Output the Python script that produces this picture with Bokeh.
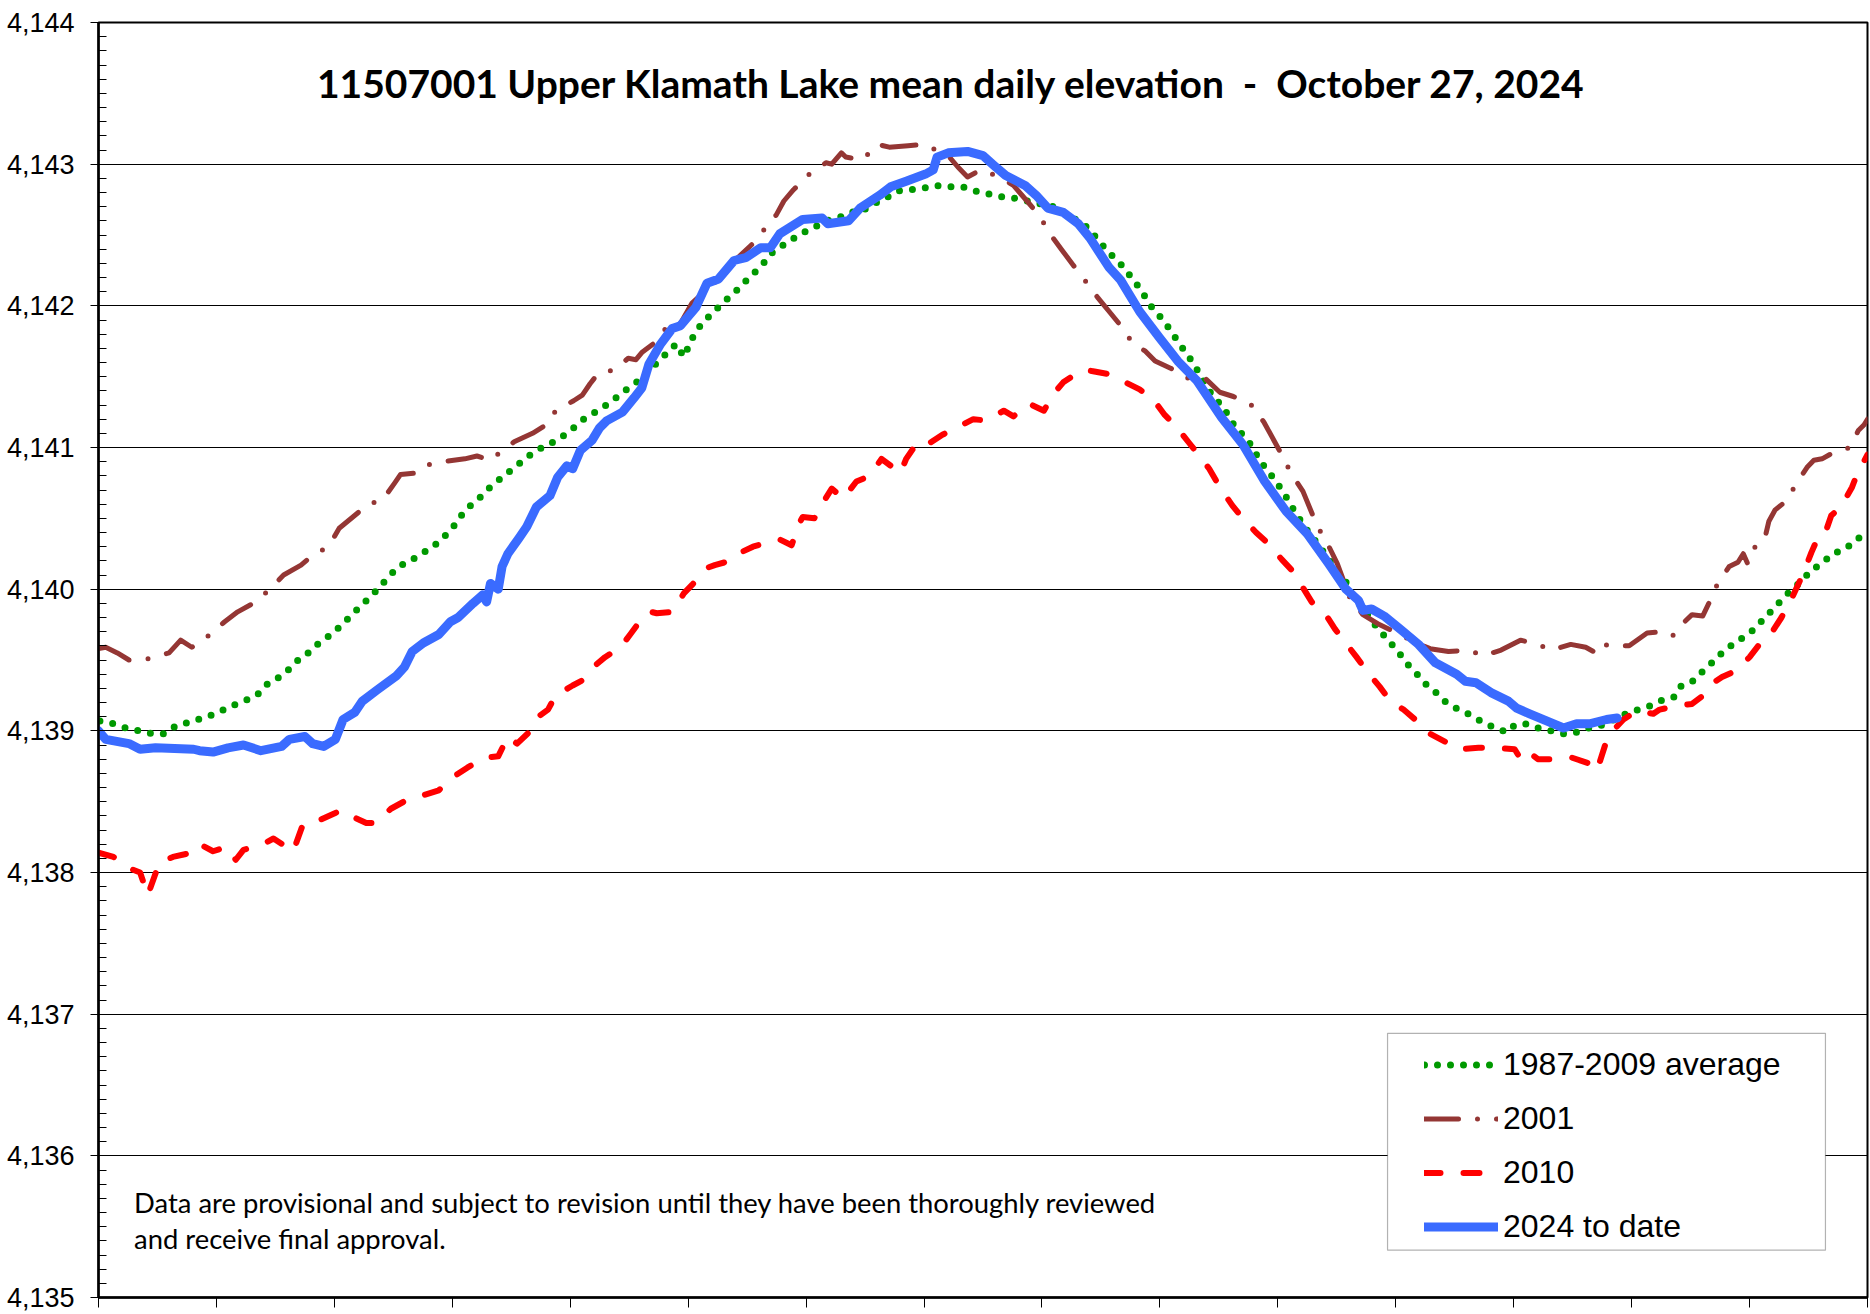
from bokeh.plotting import figure
from bokeh.models import (Range1d, SingleIntervalTicker, FixedTicker, NumeralTickFormatter,
                          Legend, LegendItem, Label, BoxAnnotation)
from bokeh.embed import file_html
from bokeh.resources import INLINE

# ---------------- data (x = day along the axis, y = elevation in feet) ----------------
avg_day = [0.3, 3.1, 5.7, 8.4, 11.0, 13.8, 16.2, 18.9, 21.5, 24.1,
           26.6, 29.2, 31.6, 33.4, 35.2, 37.5, 39.6, 41.6, 43.8, 45.9,
           48.2, 50.4, 54.2, 56.4, 58.3, 60.1, 62.1, 64.5, 66.8, 69.2,
           71.2, 73.2, 74.8, 76.6, 78.7, 80.7, 82.8, 85.0, 87.2, 89.4,
           91.8, 94.2, 96.5, 98.7, 100.7, 103.3, 105.5, 107.8, 110.0, 112.1,
           114.2, 116.1, 118.1, 119.5, 121.1, 123.4, 125.2, 127.1, 129.1, 131.2,
           133.2, 135.2, 137.2, 138.8, 140.8, 143.1, 145.3, 147.9, 150.5, 153.0,
           155.6, 158.0, 160.4, 162.9, 165.3, 167.9, 170.5, 173.2, 176.1, 178.8,
           181.4, 184.1, 186.8, 189.5, 192.2, 194.8, 197.6, 200.4, 202.7, 204.7,
           206.7, 208.4, 210.4, 212.2, 214.1, 215.8, 217.2, 219.0, 220.7, 222.3,
           223.9, 225.6, 227.1, 229.8, 231.5, 233.3, 234.9, 236.7, 238.4, 239.9,
           241.5, 243.2, 244.8, 246.3, 247.6, 249.2, 250.8, 252.5, 254.3, 256.1,
           258.1, 259.8, 262.0, 263.8, 265.8, 267.6, 269.3, 271.1, 273.1, 274.9,
           277.1, 279.1, 281.5, 284.0, 286.4, 289.0, 291.4, 293.0, 295.2, 297.8,
           300.5, 303.1, 305.8, 308.3, 311.1, 313.6, 316.0, 318.6, 321.3, 323.7,
           326.0, 327.5, 329.8, 331.9, 333.8, 335.9, 338.1, 340.3, 342.7, 344.5,
           346.5, 348.4, 350.4, 352.5, 354.2, 356.5, 358.8, 361.2, 363.5, 365.5]
avg_elev = [4139.07, 4139.05, 4139.02, 4139.00, 4138.98, 4138.98, 4139.04, 4139.06, 4139.09, 4139.12,
            4139.16, 4139.20, 4139.23, 4139.27, 4139.34, 4139.38, 4139.44, 4139.51, 4139.56, 4139.63,
            4139.68, 4139.75, 4139.88, 4139.95, 4140.02, 4140.09, 4140.16, 4140.20, 4140.25, 4140.30,
            4140.36, 4140.43, 4140.51, 4140.58, 4140.64, 4140.71, 4140.77, 4140.83, 4140.89, 4140.95,
            4141.00, 4141.04, 4141.09, 4141.15, 4141.21, 4141.26, 4141.31, 4141.37, 4141.43, 4141.48,
            4141.55, 4141.62, 4141.68, 4141.73, 4141.64, 4141.81, 4141.89, 4141.95, 4142.02, 4142.08,
            4142.15, 4142.22, 4142.28, 4142.36, 4142.41, 4142.46, 4142.51, 4142.55, 4142.60, 4142.62,
            4142.66, 4142.67, 4142.72, 4142.76, 4142.81, 4142.82, 4142.83, 4142.85, 4142.84, 4142.84,
            4142.81, 4142.79, 4142.77, 4142.76, 4142.74, 4142.72, 4142.70, 4142.64, 4142.60, 4142.55,
            4142.47, 4142.40, 4142.33, 4142.27, 4142.18, 4142.11, 4142.02, 4141.95, 4141.88, 4141.80,
            4141.72, 4141.64, 4141.56, 4141.40, 4141.33, 4141.25, 4141.16, 4141.09, 4141.02, 4140.93,
            4140.85, 4140.78, 4140.70, 4140.62, 4140.54, 4140.46, 4140.38, 4140.31, 4140.22, 4140.14,
            4140.05, 4139.94, 4139.85, 4139.76, 4139.68, 4139.61, 4139.54, 4139.46, 4139.39, 4139.32,
            4139.26, 4139.19, 4139.15, 4139.11, 4139.06, 4139.02, 4138.99, 4139.04, 4139.05, 4139.02,
            4139.00, 4138.98, 4138.99, 4139.02, 4139.04, 4139.08, 4139.12, 4139.15, 4139.18, 4139.22,
            4139.24, 4139.32, 4139.35, 4139.42, 4139.48, 4139.55, 4139.61, 4139.66, 4139.72, 4139.79,
            4139.86, 4139.93, 4140.00, 4140.06, 4140.13, 4140.18, 4140.25, 4140.28, 4140.34, 4140.40]

y2001_day = [0, 1.5, 3.9, 6.3, 10.4, 14.6, 17.0, 19.3, 22.7, 26.1,
             28.8, 32.0, 35.2, 38.3, 41.9, 44.3, 47.6, 49.8, 53.0, 55.8,
             58.8, 61.3, 62.5, 65.6, 67.2, 71.3, 75.8, 78.3, 81.1, 82.5,
             86.0, 89.8, 92.6, 94.6, 98.3, 100.1, 101.7, 103.3, 106.8, 109.6,
             111.2, 112.4, 115.1, 117.8, 120.3, 122.8, 127.0, 132.3, 135.4, 138.0,
             140.2, 141.8, 143.8, 147.1, 150.5, 151.7, 153.7, 154.6, 158.0, 161.2,
             163.6, 167.5, 170.7, 175.8, 177.8, 179.8, 182.6, 186.5, 189.3, 192.1,
             194.8, 196.8, 199.2, 201.6, 204.1, 206.7, 209.1, 211.5, 214.1, 216.6,
             218.6, 221.8, 225.1, 228.9, 232.0, 234.8, 238.5, 241.1, 244.8, 246.7,
             249.2, 252.1, 254.3, 256.3, 258.9, 261.6, 265.0, 268.7, 272.0, 275.5,
             279.3, 283.5, 286.5, 290.2, 294.2, 297.8, 300.6, 304.6, 307.7, 309.3,
             310.2, 312.9, 316.7, 320.4, 323.5, 325.7, 326.6, 329.7, 331.9, 333.6,
             335.0, 337.4, 339.2, 340.3, 341.2, 342.5, 344.7, 345.6, 346.9, 349.1,
             351.2, 353.5, 354.9, 356.6, 358.7, 362.4, 364.1, 365.3, 366.0]
y2001_elev = [4139.58, 4139.59, 4139.55, 4139.50, 4139.51, 4139.55, 4139.64, 4139.59, 4139.67, 4139.77,
              4139.84, 4139.90, 4139.99, 4140.10, 4140.17, 4140.24, 4140.30, 4140.43, 4140.52, 4140.60,
              4140.63, 4140.75, 4140.81, 4140.82, 4140.87, 4140.90, 4140.92, 4140.94, 4140.91, 4140.95,
              4141.04, 4141.10, 4141.16, 4141.26, 4141.33, 4141.37, 4141.45, 4141.52, 4141.55, 4141.63,
              4141.62, 4141.67, 4141.74, 4141.86, 4141.87, 4142.02, 4142.15, 4142.34, 4142.44, 4142.55,
              4142.64, 4142.74, 4142.82, 4142.93, 4143.01, 4143.00, 4143.08, 4143.05, 4143.03, 4143.14,
              4143.12, 4143.13, 4143.14, 4143.06, 4142.98, 4142.91, 4142.96, 4142.91, 4142.85, 4142.74,
              4142.63, 4142.51, 4142.40, 4142.29, 4142.18, 4142.06, 4141.96, 4141.86, 4141.73, 4141.68,
              4141.61, 4141.56, 4141.49, 4141.49, 4141.39, 4141.36, 4141.30, 4141.18, 4140.95, 4140.82,
              4140.69, 4140.45, 4140.32, 4140.18, 4139.94, 4139.82, 4139.75, 4139.69, 4139.63, 4139.58,
              4139.56, 4139.57, 4139.53, 4139.57, 4139.64, 4139.61, 4139.57, 4139.61, 4139.59, 4139.56,
              4139.62, 4139.60, 4139.60, 4139.69, 4139.70, 4139.67, 4139.72, 4139.82, 4139.81, 4139.93,
              4140.04, 4140.16, 4140.19, 4140.25, 4140.18, 4140.29, 4140.35, 4140.48, 4140.56, 4140.62,
              4140.74, 4140.86, 4140.91, 4140.92, 4140.96, 4141.00, 4141.12, 4141.16, 4141.20]

y2010_day = [0, 3.1, 7.1, 8.6, 10.2, 12.6, 15.4, 19.3, 20.9, 23.7,
             26.5, 28.4, 30.0, 34.0, 36.2, 40.3, 42.3, 45.1, 49.0, 50.2,
             52.2, 55.4, 57.3, 60.5, 63.7, 67.6, 70.4, 73.6, 76.3, 79.9,
             82.7, 84.7, 86.6, 89.4, 90.6, 93.0, 94.6, 98.1, 100.3, 102.7,
             104.8, 108.0, 110.0, 112.8, 114.3, 115.5, 118.7, 121.1, 122.8, 125.9,
             127.5, 130.7, 132.3, 135.4, 137.4, 141.0, 143.4, 144.9, 145.7, 148.1,
             149.7, 151.7, 154.1, 156.8, 159.6, 162.0, 165.9, 167.1, 169.5, 171.9,
             174.6, 177.0, 181.0, 183.7, 187.3, 189.3, 192.5, 195.6, 197.6, 199.6,
             202.7, 204.3, 205.5, 208.7, 211.9, 215.4, 218.2, 220.6, 222.9, 225.7,
             228.0, 229.8, 232.0, 234.6, 236.5, 239.5, 242.1, 244.8, 247.0, 249.2,
             251.0, 254.1, 255.8, 258.5, 260.3, 262.9, 265.1, 267.3, 270.0, 273.1,
             274.9, 278.8, 281.5, 285.5, 288.6, 293.0, 293.9, 295.2, 297.8, 302.3,
             304.9, 309.3, 310.0, 310.7, 312.0, 313.3, 315.5, 318.2, 321.7, 323.0,
             327.0, 329.7, 332.8, 334.1, 335.9, 338.5, 341.6, 343.4, 346.5, 348.2,
             350.4, 352.7, 354.4, 356.2, 357.5, 358.5, 360.5, 362.8, 363.7, 366.0]
y2010_elev = [4138.14, 4138.11, 4138.02, 4138.00, 4137.84, 4138.07, 4138.11, 4138.14, 4138.20, 4138.15,
              4138.18, 4138.09, 4138.16, 4138.20, 4138.24, 4138.15, 4138.34, 4138.36, 4138.42, 4138.44,
              4138.40, 4138.35, 4138.35, 4138.45, 4138.51, 4138.55, 4138.58, 4138.68, 4138.74, 4138.81,
              4138.82, 4138.96, 4138.91, 4139.00, 4139.09, 4139.15, 4139.25, 4139.32, 4139.36, 4139.46,
              4139.52, 4139.59, 4139.68, 4139.81, 4139.84, 4139.83, 4139.84, 4139.97, 4140.03, 4140.15,
              4140.17, 4140.20, 4140.25, 4140.30, 4140.32, 4140.35, 4140.31, 4140.46, 4140.51, 4140.50,
              4140.60, 4140.71, 4140.64, 4140.76, 4140.80, 4140.92, 4140.82, 4140.92, 4141.04, 4141.03,
              4141.09, 4141.13, 4141.20, 4141.19, 4141.26, 4141.22, 4141.31, 4141.26, 4141.38, 4141.46,
              4141.53, 4141.55, 4141.54, 4141.52, 4141.47, 4141.41, 4141.34, 4141.23, 4141.15, 4141.03,
              4140.93, 4140.85, 4140.72, 4140.59, 4140.51, 4140.40, 4140.32, 4140.21, 4140.13, 4140.01,
              4139.91, 4139.81, 4139.72, 4139.60, 4139.52, 4139.40, 4139.31, 4139.21, 4139.15, 4139.06,
              4138.99, 4138.92, 4138.87, 4138.88, 4138.88, 4138.87, 4138.82, 4138.87, 4138.80, 4138.80,
              4138.81, 4138.76, 4138.72, 4138.79, 4138.93, 4139.00, 4139.08, 4139.14, 4139.12, 4139.15,
              4139.18, 4139.19, 4139.27, 4139.34, 4139.38, 4139.42, 4139.52, 4139.60, 4139.71, 4139.80,
              4139.94, 4140.11, 4140.26, 4140.40, 4140.42, 4140.52, 4140.58, 4140.72, 4140.80, 4140.95]

y2024_day = [0, 1.5, 6.3, 8.6, 11.8, 19.7, 20.9, 23.7, 26.8, 30.0,
             33.6, 37.9, 39.5, 42.7, 44.3, 46.6, 49.0, 50.6, 53.0, 54.6,
             57.7, 61.7, 63.3, 64.9, 67.2, 70.4, 72.8, 74.4, 77.5, 79.5,
             80.3, 81.1, 82.7, 83.5, 84.7, 87.0, 88.6, 90.6, 93.4, 95.0,
             96.9, 98.1, 99.7, 102.1, 103.7, 105.2, 108.4, 110.8, 112.4, 113.9,
             116.3, 118.7, 120.4, 123.6, 125.9, 128.3, 131.5, 133.9, 137.0, 139.0,
             141.0, 145.7, 149.7, 150.9, 155.2, 157.6, 161.6, 163.9, 167.1, 171.1,
             172.7, 173.5, 175.8, 179.8, 183.0, 185.3, 187.7, 191.7, 194.0, 196.4,
             199.6, 202.7, 205.1, 209.1, 211.5, 215.4, 219.4, 223.3, 227.3, 232.4,
             236.8, 241.3, 245.7, 250.1, 254.5, 258.1, 260.7, 261.6, 263.4, 266.0,
             269.6, 273.1, 276.6, 281.0, 282.8, 285.0, 288.1, 291.7, 293.4, 296.1,
             299.6, 303.1, 305.8, 308.5, 312.0, 314.2]
y2024_elev = [4139.00, 4138.94, 4138.91, 4138.87, 4138.88, 4138.87, 4138.86, 4138.85, 4138.88, 4138.90,
              4138.86, 4138.89, 4138.94, 4138.96, 4138.91, 4138.89, 4138.94, 4139.08, 4139.13, 4139.21,
              4139.29, 4139.39, 4139.45, 4139.56, 4139.62, 4139.68, 4139.77, 4139.80, 4139.90, 4139.96,
              4139.91, 4140.04, 4140.00, 4140.16, 4140.25, 4140.36, 4140.44, 4140.58, 4140.66, 4140.79,
              4140.87, 4140.85, 4140.98, 4141.05, 4141.14, 4141.19, 4141.25, 4141.35, 4141.42, 4141.59,
              4141.73, 4141.84, 4141.86, 4141.99, 4142.16, 4142.19, 4142.32, 4142.34, 4142.41, 4142.41,
              4142.51, 4142.61, 4142.62, 4142.58, 4142.60, 4142.69, 4142.78, 4142.84, 4142.88, 4142.93,
              4142.96, 4143.05, 4143.08, 4143.09, 4143.06, 4142.99, 4142.92, 4142.85, 4142.78, 4142.69,
              4142.66, 4142.58, 4142.48, 4142.27, 4142.18, 4141.96, 4141.78, 4141.61, 4141.47, 4141.21,
              4141.02, 4140.76, 4140.55, 4140.39, 4140.18, 4140.00, 4139.92, 4139.85, 4139.86, 4139.81,
              4139.71, 4139.61, 4139.48, 4139.40, 4139.35, 4139.34, 4139.27, 4139.21, 4139.16, 4139.12,
              4139.07, 4139.02, 4139.05, 4139.05, 4139.08, 4139.09]

series_labels = ["1987-2009 average", "2001", "2010", "2024 to date"]
x_start, x_end = 0, 366
y_start, y_end = 4135, 4144
n_x_intervals = 15
title_text = "11507001 Upper Klamath Lake mean daily elevation\u00a0 -\u00a0 October 27, 2024"
note_lines = ["Data are provisional and subject to revision until they have been thoroughly reviewed",
              "and receive final approval."]

# ---------------- figure ----------------
p = figure(width=1870, height=1314, output_backend="svg", toolbar_location=None,
           x_range=Range1d(x_start, x_end), y_range=Range1d(y_start, y_end),
           min_border_left=98, min_border_right=3, min_border_top=22, min_border_bottom=17)
p.background_fill_color = "white"
p.border_fill_color = "white"
p.outline_line_color = "black"
p.outline_line_width = 2

p.xgrid.visible = False
p.ygrid.grid_line_color = "black"
p.ygrid.grid_line_width = 1

yax = p.yaxis[0]
yax.ticker = SingleIntervalTicker(interval=1, num_minor_ticks=10)
yax.formatter = NumeralTickFormatter(format="0,0")
yax.axis_line_color = "black"
yax.axis_line_width = 2.5
yax.major_tick_out = 8
yax.major_tick_in = 0
yax.major_tick_line_color = "black"
yax.minor_tick_in = 8
yax.minor_tick_out = 0
yax.minor_tick_line_color = "black"
yax.major_label_text_font = "Liberation Sans"
yax.major_label_text_font_size = "27px"
yax.major_label_text_color = "black"
yax.major_label_standoff = 16

xax = p.xaxis[0]
step = (x_end - x_start) / n_x_intervals
xticks = [x_start + i * step for i in range(n_x_intervals + 1)]
xax.ticker = FixedTicker(ticks=xticks, minor_ticks=[])
xax.major_label_overrides = {t: "" for t in xticks}
xax.axis_line_color = "black"
xax.axis_line_width = 2.5
xax.major_tick_out = 10
xax.major_tick_in = 0
xax.major_tick_line_color = "black"
xax.major_label_standoff = 0

r_avg = p.line(avg_day, avg_elev, line_color="#009900", line_width=7, line_dash="0 13",
               line_cap="round", line_join="round")
r_2001 = p.line(y2001_day, y2001_elev, line_color="#943634", line_width=5, line_dash="34 19 0 19",
                line_cap="round", line_join="round")
r_2010 = p.line(y2010_day, y2010_elev, line_color="#FF0000", line_width=6, line_dash="16 23",
                line_cap="round", line_join="round")
r_2024 = p.line(y2024_day, y2024_elev, line_color="#3A6BFF", line_width=9,
                line_cap="round", line_join="round")

# title and note
p.add_layout(Label(x=176.5, y=4143.574, text=title_text, text_align="center", text_baseline="middle",
                   text_font="Lato", text_font_style="bold", text_font_size="39px", text_color="black"))
p.add_layout(Label(x=7.37, y=4135.673, text=note_lines[0], text_align="left", text_baseline="middle",
                   text_font="Lato", text_font_size="27.4px", text_color="black"))
p.add_layout(Label(x=7.37, y=4135.418, text=note_lines[1], text_align="left", text_baseline="middle",
                   text_font="Lato", text_font_size="27.4px", text_color="black"))

# legend frame
p.add_layout(BoxAnnotation(left=266.7, right=357.3, top=4136.865, bottom=4135.334,
                           fill_color="white", fill_alpha=1.0, line_color="black", line_width=1.2))
legend = Legend(items=[LegendItem(label=series_labels[0], renderers=[r_avg]),
                       LegendItem(label=series_labels[1], renderers=[r_2001]),
                       LegendItem(label=series_labels[2], renderers=[r_2010]),
                       LegendItem(label=series_labels[3], renderers=[r_2024])],
                location=(1326, 47), orientation="vertical", padding=4, spacing=7, margin=0,
                glyph_width=74, glyph_height=47, label_height=47, label_width=314, label_standoff=5,
                label_text_font="Liberation Sans", label_text_font_size="32px", label_text_color="black",
                border_line_color=None, background_fill_alpha=0)
p.add_layout(legend)

open("out.html", "w").write(file_html(p, INLINE))
